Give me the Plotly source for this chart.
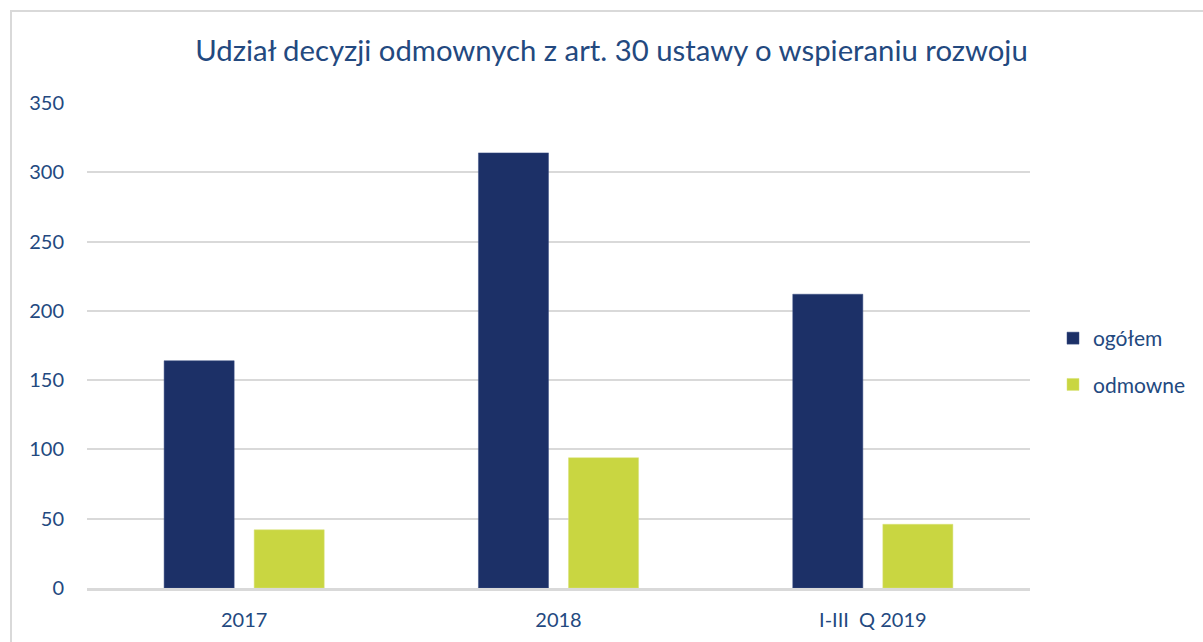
import plotly.graph_objects as go

categories = ["2017", "2018", "I-III  Q 2019"]
ogolem = [164, 314, 212]
odmowne = [42, 94, 46]
series_names = ["ogółem", "odmowne"]
title_text = "Udział decyzji odmownych z art. 30 ustawy o wspieraniu rozwoju"
y_ticks = [0, 50, 100, 150, 200, 250, 300, 350]

FONT = "Lato, 'Open Sans', sans-serif"
TEXT = "#23497F"

fig = go.Figure()
fig.add_trace(go.Bar(x=categories, y=ogolem, name=series_names[0],
                     marker=dict(color="#1C3067", line=dict(color="#3a4f85", width=0.5)),
                     legendgroup="a"))
fig.add_trace(go.Bar(x=categories, y=odmowne, name=series_names[1],
                     marker=dict(color="#C9D641", line=dict(color="#d8e27a", width=0.5)),
                     legendgroup="b"))

fig.update_layout(
    width=1203, height=642,
    margin=dict(l=87, r=173, t=103, b=54),
    paper_bgcolor="white", plot_bgcolor="white",
    barmode="group", bargap=0.427, bargroupgap=0.222,
    font=dict(family=FONT, color=TEXT, size=20),
    title=dict(text=title_text, x=(193 + 1030) / 2 / 1203, xref="container", xanchor="center",
               y=1 - 51 / 642, yref="container", yanchor="middle",
               font=dict(family=FONT, size=29.3, color=TEXT)),
    legend=dict(x=(1053 - 87) / 943, xanchor="left", y=(588 - 361.5) / 485, yanchor="middle",
                font=dict(family=FONT, size=21, color=TEXT),
                tracegroupgap=16, itemwidth=30, bgcolor="rgba(0,0,0,0)"),
    showlegend=True,
)

fig.update_yaxes(range=[0, 350], tickvals=y_ticks, showgrid=True,
                 gridcolor="#D9D9D9", gridwidth=1.5, zeroline=False,
                 showline=False, ticks="", ticklabelstandoff=22,
                 tickfont=dict(family=FONT, size=20, color=TEXT), fixedrange=True)
fig.update_xaxes(showline=True, linecolor="#D9D9D9", linewidth=2.5, ticks="",
                 ticklabelstandoff=12, fixedrange=True,
                 tickfont=dict(family=FONT, size=20, color=TEXT))

# outer frame of the chart object
fig.add_shape(type="rect", xref="paper", yref="paper",
              x0=(11 - 87) / 943, x1=1.5, y0=-0.5, y1=(588 - 11) / 485,
              line=dict(color="#D9D9D9", width=2), fillcolor="rgba(0,0,0,0)",
              layer="below")

fig.write_html("out.html", config={"displayModeBar": False},
               post_script="document.body.style.margin='0';")
